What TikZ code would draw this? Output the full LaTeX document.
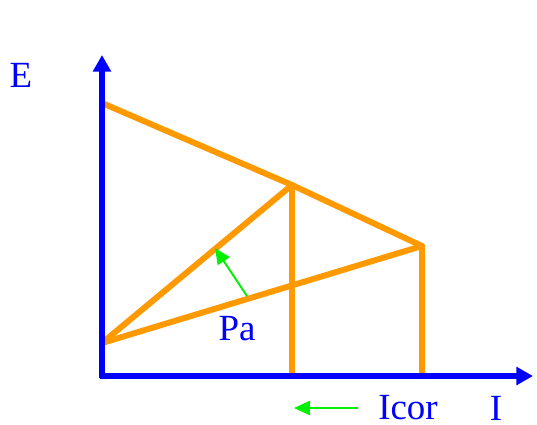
\documentclass[tikz,border=0pt]{standalone}
\usepackage{fontspec}
\setmainfont{Liberation Serif}
\usepackage{xcolor}
\usetikzlibrary{arrows.meta, calc, positioning}

\definecolor{axisblue}{RGB}{0,0,255}
\definecolor{lineorange}{RGB}{255,153,0}
\definecolor{arrowgreen}{RGB}{0,240,0}

\begin{document}
\begin{tikzpicture}[x=0.02cm, y=-0.02cm,
    axis/.style={axisblue, line width=3pt, -{Triangle[length=9.5pt, width=10pt]}},
    curve/.style={lineorange, line width=3.4pt, line cap=round, line join=round},
    hint/.style={arrowgreen, line width=1.1pt, -{Triangle[length=9pt, width=8pt]}},
    lbl/.style={text=axisblue, font=\fontsize{21}{25}\selectfont, inner sep=0pt}]

    \useasboundingbox (0,0) rectangle (537,424);

    % =================================================================
    % 1. CÁC ĐIỂM CHÍNH
    % =================================================================
    \coordinate (O) at (102,376);
    \coordinate (Etop) at (102,55);
    \coordinate (Iend) at (533,376);
    \coordinate (A) at (102,103);   % điểm trên trục E
    \coordinate (B) at (292,185);
    \coordinate (C) at (422,246);
    \coordinate (D) at (102,343);   % điểm thấp trên trục E
    \coordinate (Bx) at (292,376);
    \coordinate (Cx) at (422,376);

    % =================================================================
    % 2. ĐƯỜNG MÀU CAM
    % =================================================================
    \draw[curve] (A) -- (B) -- (C);
    \draw[curve] (D) -- (B) -- (Bx);
    \draw[curve] (D) -- (C) -- (Cx);

    % =================================================================
    % 3. HỆ TRỤC
    % =================================================================
    \draw[axis] ($(O)+(0,2)$) -- (Etop);
    \draw[axis] ($(O)+(-2,0)$) -- (Iend);

    % =================================================================
    % 4. NHÃN VÀ MŨI TÊN XANH
    % =================================================================
    \node[lbl] (labE) at (21,75) {E};
    \node[lbl] (labI) at (496,408) {I};
    \node[lbl] (labPa) at (237,329) {Pa};
    \node[lbl] (labIcor) at (408,408) {Icor};

    \coordinate (paFoot) at (247,296);
    \coordinate (paTip) at (215,248);
    \draw[hint] (paFoot) -- (paTip);

    \coordinate (icorTail) at (358,408);
    \draw[hint] (icorTail) -- ++(-64,0) coordinate (icorTip);

\end{tikzpicture}
\end{document}
